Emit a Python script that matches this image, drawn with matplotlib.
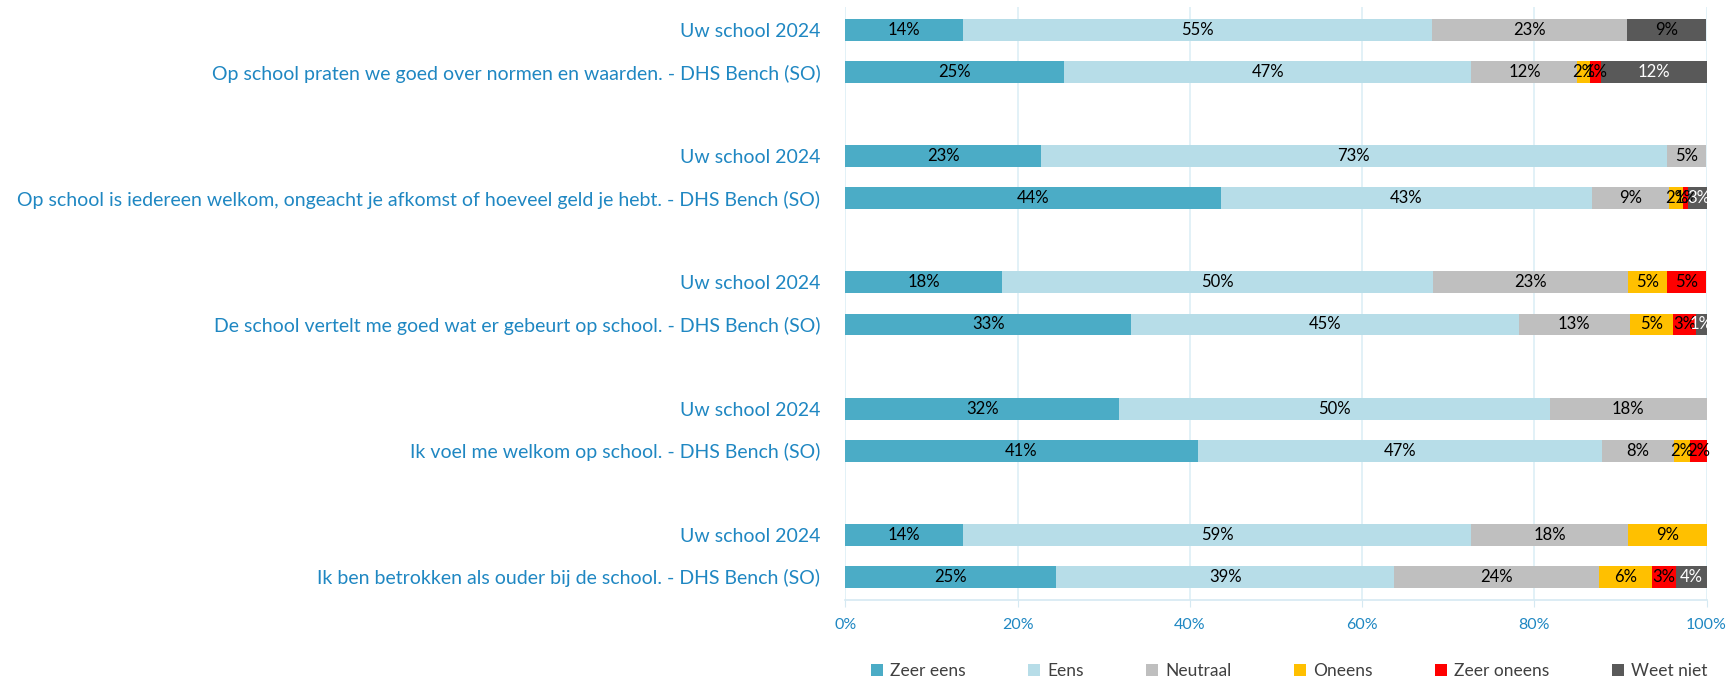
import matplotlib.pyplot as plt
import numpy as np

plt.rcParams['font.family'] = ['Lato', 'DejaVu Sans']

# %%
row_labels = [
    "Uw school 2024",
    "Op school praten we goed over normen en waarden. - DHS Bench (SO)",
    "Uw school 2024",
    "Op school is iedereen welkom, ongeacht je afkomst of hoeveel geld je hebt. - DHS Bench (SO)",
    "Uw school 2024",
    "De school vertelt me goed wat er gebeurt op school. - DHS Bench (SO)",
    "Uw school 2024",
    "Ik voel me welkom op school. - DHS Bench (SO)",
    "Uw school 2024",
    "Ik ben betrokken als ouder bij de school. - DHS Bench (SO)",
]
series = ["Zeer eens", "Eens", "Neutraal", "Oneens", "Zeer oneens", "Weet niet"]

zeer_eens   = [13.6, 25.4, 22.7, 43.6, 18.2, 33.2, 31.8, 40.9, 13.6, 24.5]
eens        = [54.5, 47.3, 72.7, 43.1, 50.0, 45.0, 50.0, 47.0, 59.1, 39.2]
neutraal    = [22.7, 12.3, 4.5,  9.0,  22.7, 12.9, 18.2, 8.3,  18.2, 23.8]
oneens      = [0.0,  1.5,  0.0,  1.6,  4.5,  5.0,  0.0,  1.9,  9.1,  6.2]
zeer_oneens = [0.0,  1.3,  0.0,  0.6,  4.5,  2.7,  0.0,  1.9,  0.0,  2.7]
weet_niet   = [9.1,  12.2, 0.0,  2.5,  0.0,  1.2,  0.0,  0.0,  0.0,  3.6]

colors = ["#4BACC6", "#B7DDE8", "#BFBFBF", "#FFC000", "#FF0000", "#595959"]
label_blue = "#1F87C2"

# %%
values = np.array([zeer_eens, eens, neutraal, oneens, zeer_oneens, weet_niet])
# pairs of rows with an empty slot between groups
ypos = np.array([(i // 2) * 3 + (i % 2) for i in range(len(row_labels))])

fig = plt.figure(figsize=(17.29, 6.85), dpi=100)
ax = fig.add_axes([0.489, 0.124, 0.498, 0.866])

left = np.zeros(len(row_labels))
for k, name in enumerate(series):
    vals = values[k]
    ax.barh(ypos, vals, left=left, height=0.52, color=colors[k], label=name, zorder=3)
    for j, v in enumerate(vals):
        if v <= 0:
            continue
        txt_color = "black"
        if name == "Weet niet" and j % 2 == 1:
            txt_color = "white"
        pct = int(np.floor(v + 0.5))
        ax.text(left[j] + v / 2, ypos[j], f"{pct}%", ha="center", va="center",
                fontsize=12, color=txt_color, zorder=4)
    left += vals

ax.set_xlim(0, 100)
ax.set_ylim(ypos.max() + 0.55, -0.55)
ax.set_yticks(ypos)
ax.set_yticklabels(row_labels, fontsize=14, color=label_blue)
ax.tick_params(axis="y", length=0, pad=18)
ax.set_xticks(np.arange(0, 101, 20))
ax.set_xticklabels([f"{t}%" for t in range(0, 101, 20)], fontsize=11.5, color=label_blue)
ax.tick_params(axis="x", length=5, color="#D5E9F2", pad=8)
ax.grid(axis="x", color="#DDEFF6", linewidth=1.2, zorder=0)
for s in ["top", "right", "left"]:
    ax.spines[s].set_visible(False)
ax.spines["bottom"].set_color("#D5E9F2")
ax.spines["bottom"].set_linewidth(1.2)

leg = ax.legend(loc="center", bbox_to_anchor=(0.515, -0.12), ncol=6, frameon=False,
                fontsize=12.5, handlelength=0.7, handleheight=0.7, columnspacing=3.6,
                handletextpad=0.4)
for t in leg.get_texts():
    t.set_color("#404040")

fig.savefig("out.png", dpi=100)
